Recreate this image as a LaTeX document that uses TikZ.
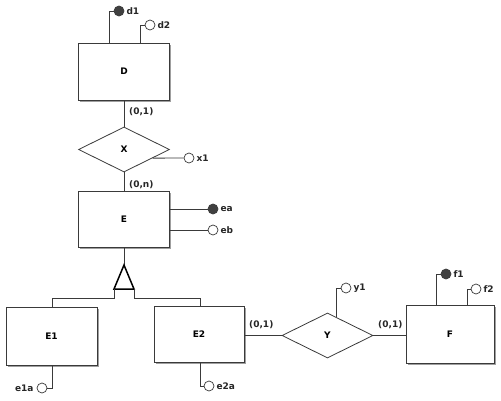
\documentclass[tikz,border=0pt]{standalone}
\usepackage{fontspec}
\setmainfont{DejaVu Sans}
\usetikzlibrary{shapes.geometric,calc,shadows}
\definecolor{ln}{HTML}{3A3A3A}
\definecolor{fillc}{HTML}{404040}
\tikzset{
  entity/.style={draw=ln, line width=0.9pt, fill=white, rectangle, inner sep=0pt,
    font=\bfseries\fontsize{9}{10}\selectfont,
    drop shadow={shadow xshift=1.6pt, shadow yshift=-1.6pt, fill=gray!75, opacity=1}},
  relship/.style={draw=ln, line width=0.8pt, fill=white, diamond, aspect=2, inner sep=0pt,
    font=\bfseries\fontsize{9}{10}\selectfont},
  conn/.style={draw=ln, line width=0.8pt},
  keyattr/.style={circle, draw=ln, fill=fillc, line width=0.7pt, minimum size=10pt, inner sep=0pt},
  plainattr/.style={circle, draw=ln, fill=white, line width=0.7pt, minimum size=10pt, inner sep=0pt},
  lbl/.style={font=\bfseries\fontsize{9}{10}\selectfont, inner sep=0pt, text=black!85},
}
\begin{document}
\begin{tikzpicture}[x=1pt,y=-1pt]
\useasboundingbox (0,0) rectangle (501,400);
% entities
\node[entity, minimum width=91pt, minimum height=57pt] (D) at (124,71.5) {D};
\node[relship, minimum width=91pt, minimum height=45pt] (X) at (124,149.5) {X};
\node[entity, minimum width=91pt, minimum height=56pt] (E) at (124,219) {E};
\node[entity, minimum width=91pt, minimum height=58pt] (E1) at (51.5,336) {E1};
\node[entity, minimum width=90pt, minimum height=56pt] (E2) at (199,334) {E2};
\node[relship, minimum width=91pt, minimum height=45pt] (Y) at (327.5,335.5) {Y};
\node[entity, minimum width=88pt, minimum height=58pt] (F) at (450,334) {F};
% attribute circles
\node[keyattr] (d1) at (119,11) {};
\node[plainattr] (d2) at (150,25) {};
\node[plainattr] (x1) at (189,158) {};
\node[keyattr] (ea) at (213,209) {};
\node[plainattr] (eb) at (213,230) {};
\node[plainattr] (e1a) at (42,388) {};
\node[plainattr] (e2a) at (209,386) {};
\node[plainattr] (y1) at (346,288) {};
\node[keyattr] (f1) at (446,274) {};
\node[plainattr] (f2) at (476,289) {};
% attribute labels
\node[lbl, anchor=west] (d1l) at ([xshift=2pt]d1.east) {d1};
\node[lbl, anchor=west] (d2l) at ([xshift=2pt]d2.east) {d2};
\node[lbl, anchor=west] (x1l) at ([xshift=2pt]x1.east) {x1};
\node[lbl, anchor=west] (eal) at ([xshift=2pt]ea.east) {ea};
\node[lbl, anchor=west] (ebl) at ([xshift=2pt]eb.east) {eb};
\node[lbl, anchor=east] (e1al) at ([xshift=-3pt]e1a.west) {e1a};
\node[lbl, anchor=west] (e2al) at ([xshift=2pt]e2a.east) {e2a};
\node[lbl, anchor=west] (y1l) at ([xshift=2pt]y1.east) {y1};
\node[lbl, anchor=west] (f1l) at ([xshift=2pt]f1.east) {f1};
\node[lbl, anchor=west] (f2l) at ([xshift=2pt]f2.east) {f2};
% attribute connectors
\draw[conn] ([xshift=-15pt]D.north) |- (d1.west);
\draw[conn] ([xshift=16pt]D.north) |- (d2.west);
\draw[conn] ($(X.east)!0.378!(X.south)$) -- (x1.west);
\draw[conn] (E.east |- ea) -- (ea.west);
\draw[conn] (E.east |- eb) -- (eb.west);
\draw[conn] ([xshift=0.5pt]E1.south) |- (e1a.east);
\draw[conn] ([xshift=1pt]E2.south) |- (e2a.west);
\draw[conn] ($(Y.north)!0.187!(Y.east)$) |- (y1.west);
\draw[conn] ([xshift=-14pt]F.north) |- (f1.west);
\draw[conn] ([xshift=17pt]F.north) |- (f2.west);
% relationships
\draw[conn] (D.south) -- (X.north);
\draw[conn] (X.south) -- (E.north);
\draw[conn] (E2.east |- Y.west) -- (Y.west);
\draw[conn] (Y.east) -- (F.west |- Y.east);
\node[lbl, anchor=west] (c1) at (129,112) {(0,1)};
\node[lbl, anchor=west] (c2) at (129,185) {(0,n)};
\node[lbl, anchor=west] (c3) at (249,325) {(0,1)};
\node[lbl, anchor=west] (c4) at (378,325) {(0,1)};
% generalization
\coordinate (tA) at (124,265);
\coordinate (tL) at (114,289);
\coordinate (tR) at (134,289);
\draw[conn] (E.south) -- (tA);
\draw[line width=1.5pt, line join=miter] (tA) -- (tL) -- (tR) -- cycle;
\draw[conn] (tL) -- ++(0,9) -| ([xshift=0.5pt]E1.north);
\draw[conn] (tR) -- ++(0,9) -| ([xshift=1pt]E2.north);
\end{tikzpicture}
\end{document}
